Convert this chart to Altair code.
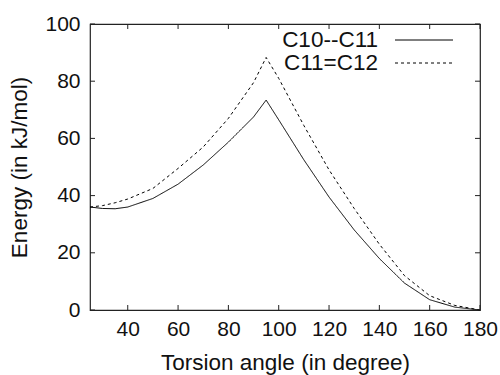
import altair as alt
import pandas as pd

angles = [25, 30, 35, 40, 50, 60, 70, 80, 90, 95, 100, 110, 120, 130, 140, 150, 160, 170, 180]
c10_c11 = [36.0, 35.5, 35.4, 36.0, 39.0, 44.0, 50.7, 58.7, 67.5, 73.4, 66.5, 52.5, 39.5, 28.0, 18.0, 9.4, 3.6, 1.0, 0.0]
c11_c12 = [36.0, 36.5, 37.5, 38.8, 42.5, 49.5, 57.0, 67.0, 79.5, 88.3, 81.0, 64.5, 49.0, 35.5, 23.0, 12.0, 5.0, 1.6, 0.0]
series_names = ["C10--C11", "C11=C12"]
x_ticks = [40, 60, 80, 100, 120, 140, 160, 180]
y_ticks = [0, 20, 40, 60, 80, 100]

W, H = 390, 286
FONT = "Liberation Sans"
FS = 21
TFS = 22.5

rows = []
for a, v in zip(angles, c10_c11):
    rows.append({"angle": a, "energy": v, "series": series_names[0]})
for a, v in zip(angles, c11_c12):
    rows.append({"angle": a, "energy": v, "series": series_names[1]})
df = pd.DataFrame(rows)

xscale = alt.Scale(domain=[25, 180], nice=False, zero=False)
yscale = alt.Scale(domain=[0, 100], nice=False)
xaxis = alt.Axis(values=x_ticks, ticks=False, domain=False, grid=False,
                 labelOverlap=False, labelFlush=False,
                 title="Torsion angle (in degree)", labelFontSize=FS, titleFontSize=TFS,
                 labelFont=FONT, titleFont=FONT, labelColor="#111", titleColor="#111",
                 titleFontWeight="normal", labelPadding=8, titlePadding=12)
yaxis = alt.Axis(values=y_ticks, ticks=False, domain=False, grid=False,
                 labelOverlap=False, labelFlush=False,
                 title="Energy (in kJ/mol)", labelFontSize=FS, titleFontSize=TFS,
                 labelFont=FONT, titleFont=FONT, labelColor="#111", titleColor="#111",
                 titleFontWeight="normal", labelPadding=10, titlePadding=13)
X = alt.X("angle:Q", scale=xscale, axis=xaxis)
Y = alt.Y("energy:Q", scale=yscale, axis=yaxis)

lines = alt.Chart(df).mark_line(color="black", strokeWidth=1).encode(
    x=X, y=Y,
    strokeDash=alt.StrokeDash("series:N", scale=alt.Scale(domain=series_names, range=[[1, 0], [3, 3]]), legend=None),
    detail="series:N",
)

xt = pd.DataFrame({"angle": x_ticks})
yt = pd.DataFrame({"energy": y_ticks})
tick_style = dict(color="#222", strokeWidth=1)
bottom = alt.Chart(xt).mark_rule(**tick_style).encode(x=X, y=alt.value(H), y2=alt.value(H - 5))
top = alt.Chart(xt).mark_rule(**tick_style).encode(x=X, y=alt.value(0), y2=alt.value(5))
left = alt.Chart(yt).mark_rule(**tick_style).encode(y=Y, x=alt.value(0), x2=alt.value(5))
right = alt.Chart(yt).mark_rule(**tick_style).encode(y=Y, x=alt.value(W), x2=alt.value(W - 5))

leg_df = pd.DataFrame({"series": series_names})
legend_layers = []
for i, name in enumerate(series_names):
    ly = 16 + i * 23
    d = leg_df[leg_df.series == name]
    legend_layers.append(alt.Chart(d).mark_text(align="right", baseline="middle", font=FONT,
                                                fontSize=22.5, color="#111").encode(
        text="series:N", x=alt.value(288), y=alt.value(ly)))
    legend_layers.append(alt.Chart(d).mark_rule(color="black", strokeWidth=1,
                                                strokeDash=[1, 0] if i == 0 else [3, 3]).encode(
        x=alt.value(305), x2=alt.value(363), y=alt.value(ly)))

chart = alt.layer(lines, bottom, top, left, right, *legend_layers).properties(
    width=W, height=H,
    background="white",
    autosize=alt.AutoSizeParams(type="none"),
    padding={"left": 90, "top": 24, "right": 20, "bottom": 65},
).configure_view(stroke="#222", strokeWidth=1.2)

chart.save("out.html", embed_options={"renderer": "svg", "actions": False})
